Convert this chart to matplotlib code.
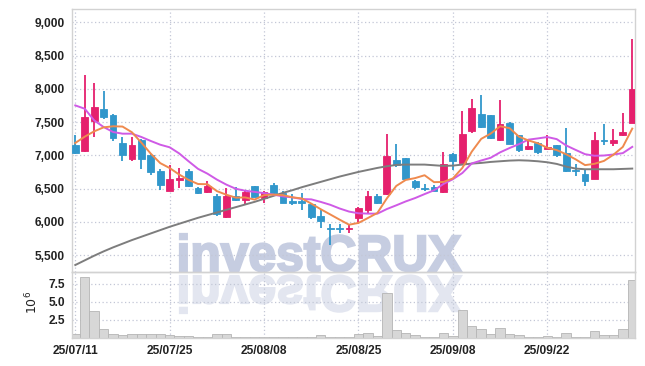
import numpy as np
import pandas as pd
import matplotlib
matplotlib.use("Agg")
import matplotlib.pyplot as plt
from matplotlib.textpath import TextPath
from matplotlib.patches import PathPatch
from matplotlib.font_manager import FontProperties
import matplotlib.transforms as mtransforms
from matplotlib.ticker import FuncFormatter, FixedLocator

# ---------------- data ----------------
opens = [7150, 7070, 7520, 7700, 7600, 7190, 6950, 7230, 7010, 6770,
         6460, 6635, 6770, 6510, 6450, 6395, 6070, 6395, 6325, 6535,
         6355, 6560, 6435, 6310, 6320, 6265, 6085, 5910, 5905, 5890,
         6050, 6175, 6385, 6425, 6925, 6960, 6615, 6500, 6525, 6450,
         7025, 6885, 7360, 7625, 7600, 7225, 7490, 7300, 7090, 7190,
         7100, 7150, 7035, 6775, 6725, 6640, 7230, 7185, 7310, 7485]
highs = [7300, 8200, 8080, 7970, 7620, 7280, 7280, 7240, 7020, 6790,
         6850, 6815, 6800, 6530, 6615, 6420, 6515, 6525, 6480, 6545,
         6470, 6590, 6460, 6420, 6435, 6290, 6175, 5960, 5965, 5965,
         6220, 6465, 6415, 7325, 7175, 6965, 6625, 6575, 6560, 7050,
         7035, 7665, 7850, 7900, 7605, 7835, 7495, 7305, 7225, 7200,
         7300, 7160, 7415, 6875, 6800, 7350, 7465, 7400, 7635, 8755]
lows = [7020, 7050, 7280, 7550, 7220, 6920, 6920, 6800, 6700, 6480,
        6460, 6515, 6520, 6425, 6440, 6080, 6060, 6320, 6260, 6370,
        6285, 6420, 6275, 6250, 6175, 6035, 5900, 5650, 5830, 5830,
        5965, 6115, 6265, 6400, 6825, 6640, 6500, 6470, 6460, 6440,
        6775, 6880, 7340, 7415, 7245, 7215, 7165, 7050, 7080, 7025,
        7090, 6975, 6755, 6690, 6535, 6640, 7150, 7135, 7285, 7485]
closes = [7030, 7580, 7730, 7580, 7260, 7010, 7150, 6950, 6750, 6550,
          6640, 6665, 6545, 6440, 6535, 6120, 6395, 6325, 6455, 6375,
          6455, 6435, 6285, 6290, 6290, 6065, 6015, 5895, 5895, 5910,
          6200, 6385, 6275, 6985, 6850, 6650, 6525, 6490, 6465, 6865,
          6915, 7315, 7715, 7425, 7260, 7465, 7175, 7075, 7140, 7050,
          7125, 7000, 6760, 6760, 6615, 7225, 7215, 7225, 7350, 7990]
volumes_m = [0.6, 8.4, 3.7, 1.3, 0.6, 0.45, 0.6, 0.6, 0.5, 0.5,
             0.4, 0.3, 0.25, 0.2, 0.2, 0.5, 0.5, 0.15, 0.15, 0.15,
             0.12, 0.12, 0.12, 0.12, 0.15, 0.12, 0.35, 0.12, 0.12, 0.2,
             0.6, 0.7, 0.25, 6.2, 1.1, 0.7, 0.4, 0.2, 0.2, 0.75,
             0.3, 3.85, 1.6, 1.2, 0.6, 1.45, 0.6, 0.4, 0.2, 0.2,
             0.3, 0.2, 0.65, 0.2, 0.2, 1.0, 0.4, 0.4, 1.2, 8.0]
# moving-average values before enough in-window history exists
ma5_head = [7185, 7280, 7360, 7420]
ma10_head = [7750, 7700, 7525, 7425, 7350, 7325, 7325, 7275, 7215]
# long moving average (grey)
ma_long = [5350, 5420, 5490, 5555, 5615, 5670, 5725, 5775, 5825, 5875,
           5925, 5970, 6015, 6060, 6100, 6140, 6180, 6220, 6260, 6300,
           6345, 6390, 6435, 6475, 6520, 6560, 6600, 6640, 6680, 6715,
           6750, 6780, 6810, 6835, 6855, 6860, 6860, 6860, 6850, 6840,
           6845, 6860, 6875, 6885, 6900, 6910, 6920, 6925, 6920, 6910,
           6895, 6870, 6830, 6800, 6790, 6790, 6790, 6790, 6795, 6800]
tick_pos = [0, 10, 20, 30, 40, 50]
tick_labels = ['25/07/11', '25/07/25', '25/08/08', '25/08/25', '25/09/08', '25/09/22']
price_ticks = [5500, 6000, 6500, 7000, 7500, 8000, 8500, 9000]
vol_ticks = [2.5, 5.0, 7.5]

# ---------------- styling ----------------
UP = '#e5206d'
DOWN = '#3197cb'
GRID = '#c3c7d6'
SPINE = '#d2d2d2'
TXT = '#222222'
W, H = 645, 366

o = np.array(opens, float); h = np.array(highs, float)
l = np.array(lows, float); c = np.array(closes, float)
x = np.arange(len(c))
ma5 = pd.Series(c).rolling(5).mean().to_numpy(); ma5[:4] = ma5_head
ma10 = pd.Series(c).rolling(10).mean().to_numpy(); ma10[:9] = ma10_head

fig = plt.figure(figsize=(W / 100, H / 100), dpi=100)
fig.patch.set_facecolor('white')
L, R = 71.7 / W, 635 / W
ax = fig.add_axes([L, 1 - 272 / H, R - L, (272 - 9.3) / H])
axv = fig.add_axes([L, 1 - 338 / H, R - L, (338 - 272) / H], sharex=ax)
for a in (ax, axv):
    a.set_facecolor('none')
    for s in a.spines.values():
        s.set_color(SPINE)
        s.set_linewidth(1.0)
    a.grid(True, color=GRID, linestyle=(0, (1, 2)), linewidth=0.9)
    a.set_axisbelow(True)
    a.tick_params(length=0, colors=TXT)

tick_font = dict(family=['Liberation Sans', 'DejaVu Sans'], size=8.6, weight='bold')

# watermark (text and its reflection)
fp = FontProperties(family=['Liberation Sans', 'DejaVu Sans'], weight='bold')
tp = TextPath((0, 0), 'investCRUX', size=1, prop=fp)
bb = tp.get_extents()
x0, x1 = 180, 461
base, top = H - 271, H - 234
sx = (x1 - x0) / (bb.x1 - bb.x0)
sy = (top - base) / bb.y1
toF = mtransforms.Affine2D().scale(1 / W, 1 / H) + fig.transFigure
t1 = mtransforms.Affine2D().translate(-bb.x0, 0).scale(sx, sy).translate(x0, base)
t2 = mtransforms.Affine2D().translate(-bb.x0, 0).scale(sx, -sy).translate(x0, base - 5)
fig.add_artist(PathPatch(t1.transform_path(tp), transform=toF, facecolor='#c6cde1',
                         edgecolor='#c6cde1', linewidth=1.6, zorder=-1))
fig.add_artist(PathPatch(t2.transform_path(tp), transform=toF, facecolor='#e3e6f0',
                         edgecolor='#e3e6f0', linewidth=1.6, zorder=-1))

# candles
up = c >= o
col = np.where(up, UP, DOWN)
ax.vlines(x, l, h, colors=col, linewidth=1.3, zorder=2)
body_lo = np.minimum(o, c)
body_h = np.maximum(np.abs(c - o), 12)
ax.bar(x, body_h, bottom=body_lo, width=0.72, color=col, edgecolor=col,
       linewidth=0.6, zorder=3)

# moving averages
ax.plot(x, ma_long, color='#7d7d7d', linewidth=1.4, zorder=4)
ax.plot(x, ma10, color='#cf5ae6', linewidth=1.4, zorder=4)
ax.plot(x, ma5, color='#ef8a4e', linewidth=1.4, zorder=4)

ax.set_xlim(-0.38, 59.29)
ax.set_ylim(5245, 9195)
ax.yaxis.set_major_locator(FixedLocator(price_ticks))
ax.yaxis.set_major_formatter(FuncFormatter(lambda v, p: f'{v:,.0f}'))
ax.tick_params(axis='y', pad=5)
for t in ax.get_yticklabels():
    t.set(**tick_font)
ax.tick_params(axis='x', labelbottom=False)

# volume
axv.bar(x, np.array(volumes_m) * 1e6, width=1.0, color='#d7d7d7',
        edgecolor='#b5b5b5', linewidth=0.6, zorder=2)
axv.set_ylim(0, 9.13e6)
axv.yaxis.set_major_locator(FixedLocator([v * 1e6 for v in vol_ticks]))
axv.yaxis.set_major_formatter(FuncFormatter(lambda v, p: f'{v / 1e6:.1f}'))
axv.xaxis.set_major_locator(FixedLocator(tick_pos))
axv.set_xticklabels(tick_labels)
axv.tick_params(axis='y', pad=5)
axv.tick_params(axis='x', pad=5)
for t in axv.get_yticklabels() + axv.get_xticklabels():
    t.set(**tick_font)
ax.xaxis.set_major_locator(FixedLocator(tick_pos))

fig.text(31.5 / W, 1 - 302 / H, r'$10^6$', rotation=90, ha='center', va='center',
         fontsize=9, color=TXT)

fig.savefig('out.png', dpi=100, facecolor='white')
